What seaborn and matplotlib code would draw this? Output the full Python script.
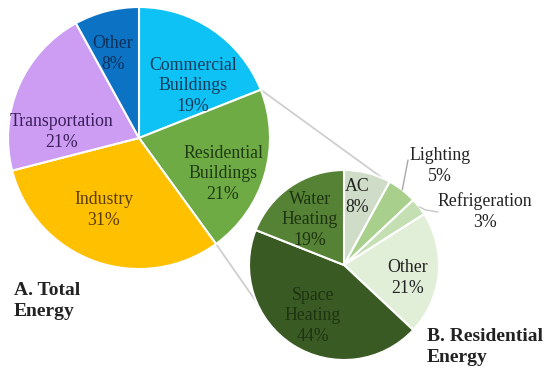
import numpy as np
import matplotlib
matplotlib.use("Agg")
import matplotlib.pyplot as plt
import seaborn as sns

# ---- data ----
total_labels = ["Commercial\nBuildings", "Residential\nBuildings", "Industry", "Transportation", "Other"]
total_values = [19, 21, 31, 21, 8]
res_labels = ["AC", "Lighting", "Refrigeration", "Other", "Space\nHeating", "Water\nHeating"]
res_values = [8, 5, 3, 21, 44, 19]

# ---- style ----
sns.set_theme(style="white")
plt.rcParams['font.family'] = ['Liberation Serif', 'DejaVu Serif']

total_colors = ["#0FC2F5", "#6FAB45", "#FFC000", "#CC9DF3", "#0B72C4"]
total_text = ["#123A5C", "#1E3A12", "#5A3C08", "#3C1E5C", "#10305A"]
res_colors = ["#CFDCC8", "#A8D08C", "#C4DFB2", "#E2EFD8", "#3A5A24", "#558234"]
res_text = ["#222222", "#222222", "#222222", "#222222", "#1E3312", "#1E3312"]

W, H = 550, 377
fig = plt.figure(figsize=(W / 100, H / 100), dpi=100)
ax = fig.add_axes([0, 0, 1, 1])

def Y(y):
    return H - y

cA, rA = (139, Y(138)), 131
cB, rB = (344, Y(265)), 95

wedgesA, _ = ax.pie(total_values, startangle=90, counterclock=False, center=cA, radius=rA,
                    colors=total_colors, wedgeprops=dict(edgecolor="white", linewidth=1.5))

def edge_pt(c, r, ang):
    a = np.deg2rad(ang)
    return c[0] + r * np.cos(a), c[1] + r * np.sin(a)

# connector lines from Residential slice to pie B
w_res = wedgesA[1]
p1 = edge_pt(cA, rA, w_res.theta2)
p2 = edge_pt(cA, rA, w_res.theta1)
q1 = edge_pt(cB, rB, 66)
q2 = edge_pt(cB, rB, 203)
ax.plot([p1[0], q1[0]], [p1[1], q1[1]], color="#CFCFCF", lw=1.3, zorder=0.5)
ax.plot([p2[0], q2[0]], [p2[1], q2[1]], color="#CFCFCF", lw=1.3, zorder=0.5)

wedgesB, _ = ax.pie(res_values, startangle=90, counterclock=False, center=cB, radius=rB,
                    colors=res_colors, wedgeprops=dict(edgecolor="white", linewidth=1.5))

fs = 12.8
ls = 1.3
# label positions (pixel layout)
posA = [(193, 86), (223, 174), (104, 210), (62, 132), (113, 54)]
for lab, v, (x, y), tc in zip(total_labels, total_values, posA, total_text):
    ax.text(x, Y(y), f"{lab}\n{v}%", ha="center", va="center", fontsize=fs, color=tc,
            linespacing=ls)

posB = {0: (357, 197), 3: (408, 278), 4: (313, 316), 5: (310, 220),
        1: (440, 166), 2: (485, 212)}
for i, (lab, v) in enumerate(zip(res_labels, res_values)):
    x, y = posB[i]
    ax.text(x, Y(y), f"{lab}\n{v}%", ha="center", va="center", fontsize=fs, color=res_text[i],
            linespacing=ls)

# leader lines for small slices
wl = wedgesB[1]
m = (wl.theta1 + wl.theta2) / 2
s = edge_pt(cB, rB, m)
ax.plot([s[0], 408], [s[1], Y(160)], color="#A8A8A8", lw=1.0)
wr = wedgesB[2]
m = (wr.theta1 + wr.theta2) / 2
s = edge_pt(cB, rB, m)
ax.plot([s[0], s[0] + 6, 438], [s[1], s[1] - 3, Y(212)], color="#C8C8C8", lw=1.0)

# titles
ax.text(14, Y(301), "A. Total\nEnergy", ha="left", va="center", fontsize=14,
        fontweight="bold", color="#222222", linespacing=1.3)
ax.text(427, Y(347), "B. Residential\nEnergy", ha="left", va="center", fontsize=14,
        fontweight="bold", color="#222222", linespacing=1.3)

ax.set_xlim(0, W)
ax.set_ylim(0, H)
ax.set_aspect("equal")
ax.axis("off")
fig.savefig("out.png", dpi=100)
